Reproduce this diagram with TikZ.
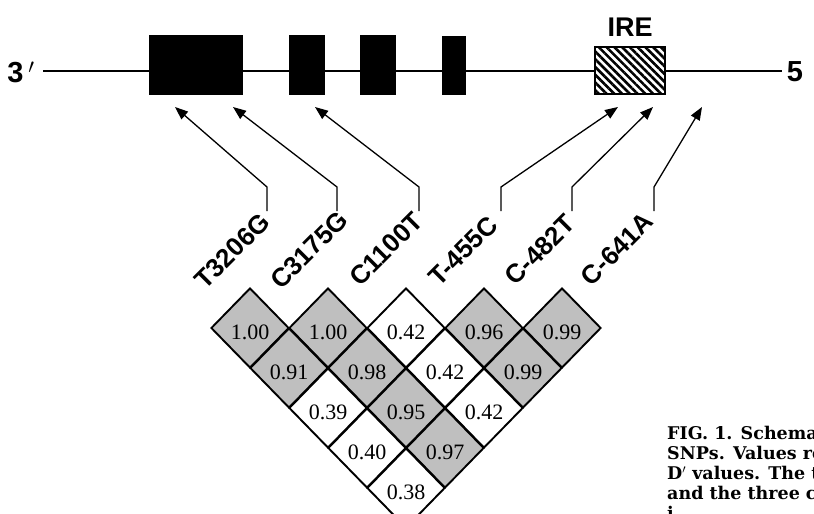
\documentclass[tikz,border=0pt]{standalone}
\usepackage{fontspec}
\newfontfamily\sansfont{Liberation Sans}
\newfontfamily\numfont{Liberation Serif}
\newfontfamily\capfont{DejaVu Serif}
\usetikzlibrary{shapes.geometric,arrows.meta,patterns.meta}

\begin{document}
\begin{tikzpicture}[x=1pt,y=-1pt,
  cell/.style={diamond,draw=black,line width=1.9pt,minimum width=78pt,
    minimum height=80pt,inner sep=0pt,text height=22pt,text depth=0pt,
    font=\numfont\fontsize{22}{22}\selectfont},
  ldcell/.style={cell,fill=black!25},
  lowcell/.style={cell,fill=white},
  snp/.style={font=\sansfont\bfseries\fontsize{26}{26}\selectfont,rotate=45,inner sep=0pt},
  endlabel/.style={font=\sansfont\bfseries\fontsize{29}{29}\selectfont,inner sep=0pt},
  exon/.style={fill=black,draw=none,inner sep=0pt},
  pointer/.style={line width=1.3pt,-{Triangle[length=13pt,width=10pt]}}]

\useasboundingbox (0,0) rectangle (814,514);
\clip (0,0) rectangle (814,514);

% gene backbone
\coordinate (g3) at (43,71);
\coordinate (g5) at (782,71);
\draw[line width=1.4pt] (g3) -- (g5);
\node[endlabel] (end3) at (21,72) {3\,$'$};
\node[endlabel] (end5) at (795,72) {5};

% exons and the IRE
\node[exon,minimum width=94pt,minimum height=60pt] (ex1) at (196,65) {};
\node[exon,minimum width=36pt,minimum height=60pt] (ex2) at (307,65) {};
\node[exon,minimum width=36pt,minimum height=60pt] (ex3) at (378,65) {};
\node[exon,minimum width=24pt,minimum height=59pt] (ex4) at (454,65.5) {};
\node[draw,line width=1.5pt,minimum width=70pt,minimum height=47pt,inner sep=0pt,
  preaction={fill=white},
  pattern={Lines[angle=-45,distance=5.5pt,line width=2.6pt]}] (ire) at (630,70.5) {};
\node[endlabel,font=\sansfont\bfseries\fontsize{27}{27}\selectfont] (irelab) at (630,27) {IRE};

% SNP names
\node[snp] (s1) at (232,251) {T3206G};
\node[snp] (s2) at (309,250) {C3175G};
\node[snp] (s3) at (386,249) {C1100T};
\node[snp] (s4) at (463,251) {T-455C};
\node[snp] (s5) at (540,250) {C-482T};
\node[snp] (s6) at (617,249) {C-641A};

% SNP positions on the gene
\coordinate (b1) at (267,211); \coordinate (t1) at (175,107);
\coordinate (b2) at (337,211); \coordinate (t2) at (233,107);
\coordinate (b3) at (419,211); \coordinate (t3) at (315,107);
\coordinate (b4) at (501,211); \coordinate (t4) at (618,107);
\coordinate (b5) at (572,211); \coordinate (t5) at (653,107);
\coordinate (b6) at (654,211); \coordinate (t6) at (702,107);
\foreach \i in {1,...,6}
  \draw[pointer] (b\i) -- ++(0,-24) -- (t\i);

% pairwise D' matrix
\node[ldcell]  (d12) at (250,328) {1.00};
\node[ldcell]  (d23) at (328,328) {1.00};
\node[lowcell] (d34) at (406,328) {0.42};
\node[ldcell]  (d45) at (484,328) {0.96};
\node[ldcell]  (d56) at (562,328) {0.99};
\node[ldcell]  (d13) at (289,368) {0.91};
\node[ldcell]  (d24) at (367,368) {0.98};
\node[lowcell] (d35) at (445,368) {0.42};
\node[ldcell]  (d46) at (523,368) {0.99};
\node[lowcell] (d14) at (328,408) {0.39};
\node[ldcell]  (d25) at (406,408) {0.95};
\node[lowcell] (d36) at (484,408) {0.42};
\node[lowcell] (d15) at (367,448) {0.40};
\node[ldcell]  (d26) at (445,448) {0.97};
\node[lowcell] (d16) at (406,488) {0.38};

% legend text
\node[anchor=north west,align=left,inner sep=0pt,
  font=\capfont\bfseries\fontsize{17.5}{20}\selectfont] (caption) at (667,426)
  {FIG. 1. Schema\\SNPs. Values re\\D$'$ values. The t\\and the three c\\i};
\end{tikzpicture}
\end{document}
